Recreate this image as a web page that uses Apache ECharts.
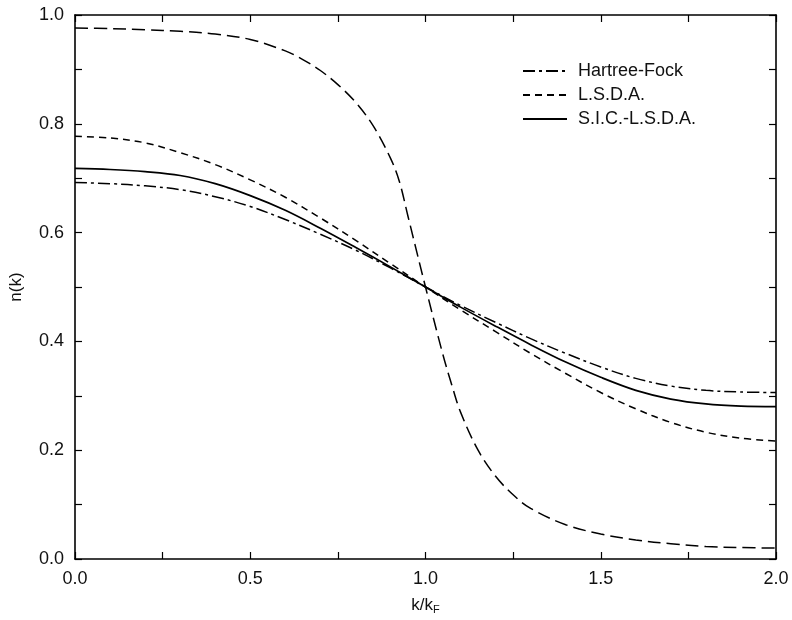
<!DOCTYPE html>
<html>
<head>
<meta charset="utf-8">
<script src="https://cdn.jsdelivr.net/npm/echarts@6/dist/echarts.min.js"></script>
<style>html,body{margin:0;padding:0;background:#fff}#c{width:792px;height:620px}</style>
</head>
<body>
<div id="c"></div>
<script>
const kValues = [0,0.1,0.2,0.3,0.4,0.5,0.6,0.7,0.8,0.9,1.0,1.1,1.2,1.3,1.4,1.5,1.6,1.7,1.8,1.9,2.0];
const hartreeFock = [0.692,0.690,0.686,0.679,0.666,0.648,0.624,0.597,0.568,0.535,0.500,0.466,0.435,0.405,0.378,0.353,0.332,0.318,0.310,0.307,0.306];
const lsda = [0.777,0.774,0.765,0.747,0.725,0.697,0.665,0.627,0.586,0.543,0.500,0.458,0.418,0.378,0.341,0.306,0.276,0.251,0.233,0.222,0.217];
const sicLsda = [0.718,0.716,0.712,0.705,0.690,0.668,0.641,0.608,0.573,0.537,0.500,0.463,0.428,0.394,0.362,0.334,0.310,0.294,0.285,0.281,0.280];
const steepK = [0,0.1,0.2,0.3,0.4,0.5,0.6,0.65,0.7,0.75,0.8,0.85,0.9,0.925,0.95,1.0,1.05,1.075,1.1,1.15,1.2,1.25,1.3,1.4,1.5,1.6,1.7,1.8,1.9,2.0];
const steep = [0.976,0.975,0.973,0.970,0.965,0.955,0.934,0.918,0.898,0.872,0.840,0.797,0.737,0.695,0.630,0.500,0.375,0.320,0.270,0.200,0.152,0.118,0.093,0.063,0.046,0.035,0.028,0.023,0.021,0.020];
const legendNames = ['Hartree-Fock','L.S.D.A.','S.I.C.-L.S.D.A.'];
const xTicks = {min:0, max:2, interval:0.25, labelEvery:0.5};
const yTicks = {min:0, max:1, interval:0.1, labelEvery:0.2};

function pairs(xs, ys){ return xs.map((x,i)=>[x, ys[i]]); }

const font = '"Liberation Sans", Arial, sans-serif';
const axisLine = {show:true, onZero:false, lineStyle:{color:'#000', width:1.6}};
function labelFmt(every){
  return v => (Math.abs(v/every - Math.round(v/every)) < 1e-6) ? v.toFixed(1) : '';
}
function xAx(pos, showLabel){
  return {
    type:'value', position:pos, min:xTicks.min, max:xTicks.max, interval:xTicks.interval,
    axisLine, splitLine:{show:false},
    axisTick:{show:true, inside:true, length:7, lineStyle:{color:'#000', width:1.2}},
    axisLabel:{show:showLabel, color:'#111', fontSize:18, fontFamily:font, margin:11,
      formatter:labelFmt(xTicks.labelEvery)},
    name: showLabel ? '{a|k/k}{s|F}' : '',
    nameLocation:'middle', nameGap:36,
    nameTextStyle:{rich:{a:{fontSize:17,fontFamily:font,color:'#111'},s:{fontSize:11,fontFamily:font,color:'#111',padding:[9,0,0,0]}}}
  };
}
function yAx(pos, showLabel){
  return {
    type:'value', position:pos, min:yTicks.min, max:yTicks.max, interval:yTicks.interval,
    axisLine, splitLine:{show:false},
    axisTick:{show:true, inside:true, length:7, lineStyle:{color:'#000', width:1.2}},
    axisLabel:{show:showLabel, color:'#111', fontSize:18, fontFamily:font, margin:11,
      formatter:labelFmt(yTicks.labelEvery)},
    name: showLabel ? 'n(k)' : '',
    nameLocation:'middle', nameGap:50, nameRotate:90,
    nameTextStyle:{fontSize:17, fontFamily:font, color:'#111'}
  };
}
function lineSeries(name, xs, ys, width, type){
  return {name, type:'line', data:pairs(xs, ys), smooth:0.35, showSymbol:false, symbol:'none',
    color:'#000', itemStyle:{color:'#000'}, lineStyle:{color:'#000', width, type}};
}

const chart = echarts.init(document.getElementById('c'), null, {renderer:'canvas'});
chart.setOption({
  animation:false,
  backgroundColor:'#fff',
  grid:{left:73, right:16, top:15, bottom:59},
  xAxis:[xAx('bottom', true), xAx('top', false)],
  yAxis:[yAx('left', true), yAx('right', false)],
  legend:{
    data:legendNames, orient:'vertical', left:517, top:57, itemGap:6,
    itemWidth:44, itemHeight:14,
    itemStyle:{opacity:0},
    textStyle:{fontSize:18, lineHeight:18, fontFamily:font, color:'#111', padding:[0,0,0,6]}
  },
  series:[
    lineSeries('Hartree-Fock', kValues, hartreeFock, 1.5, [12,4,3,4]),
    lineSeries('L.S.D.A.', kValues, lsda, 1.5, [7,5]),
    lineSeries('S.I.C.-L.S.D.A.', kValues, sicLsda, 1.7, 'solid'),
    lineSeries('step', steepK, steep, 1.5, [13,6])
  ]
});
</script>
</body>
</html>
